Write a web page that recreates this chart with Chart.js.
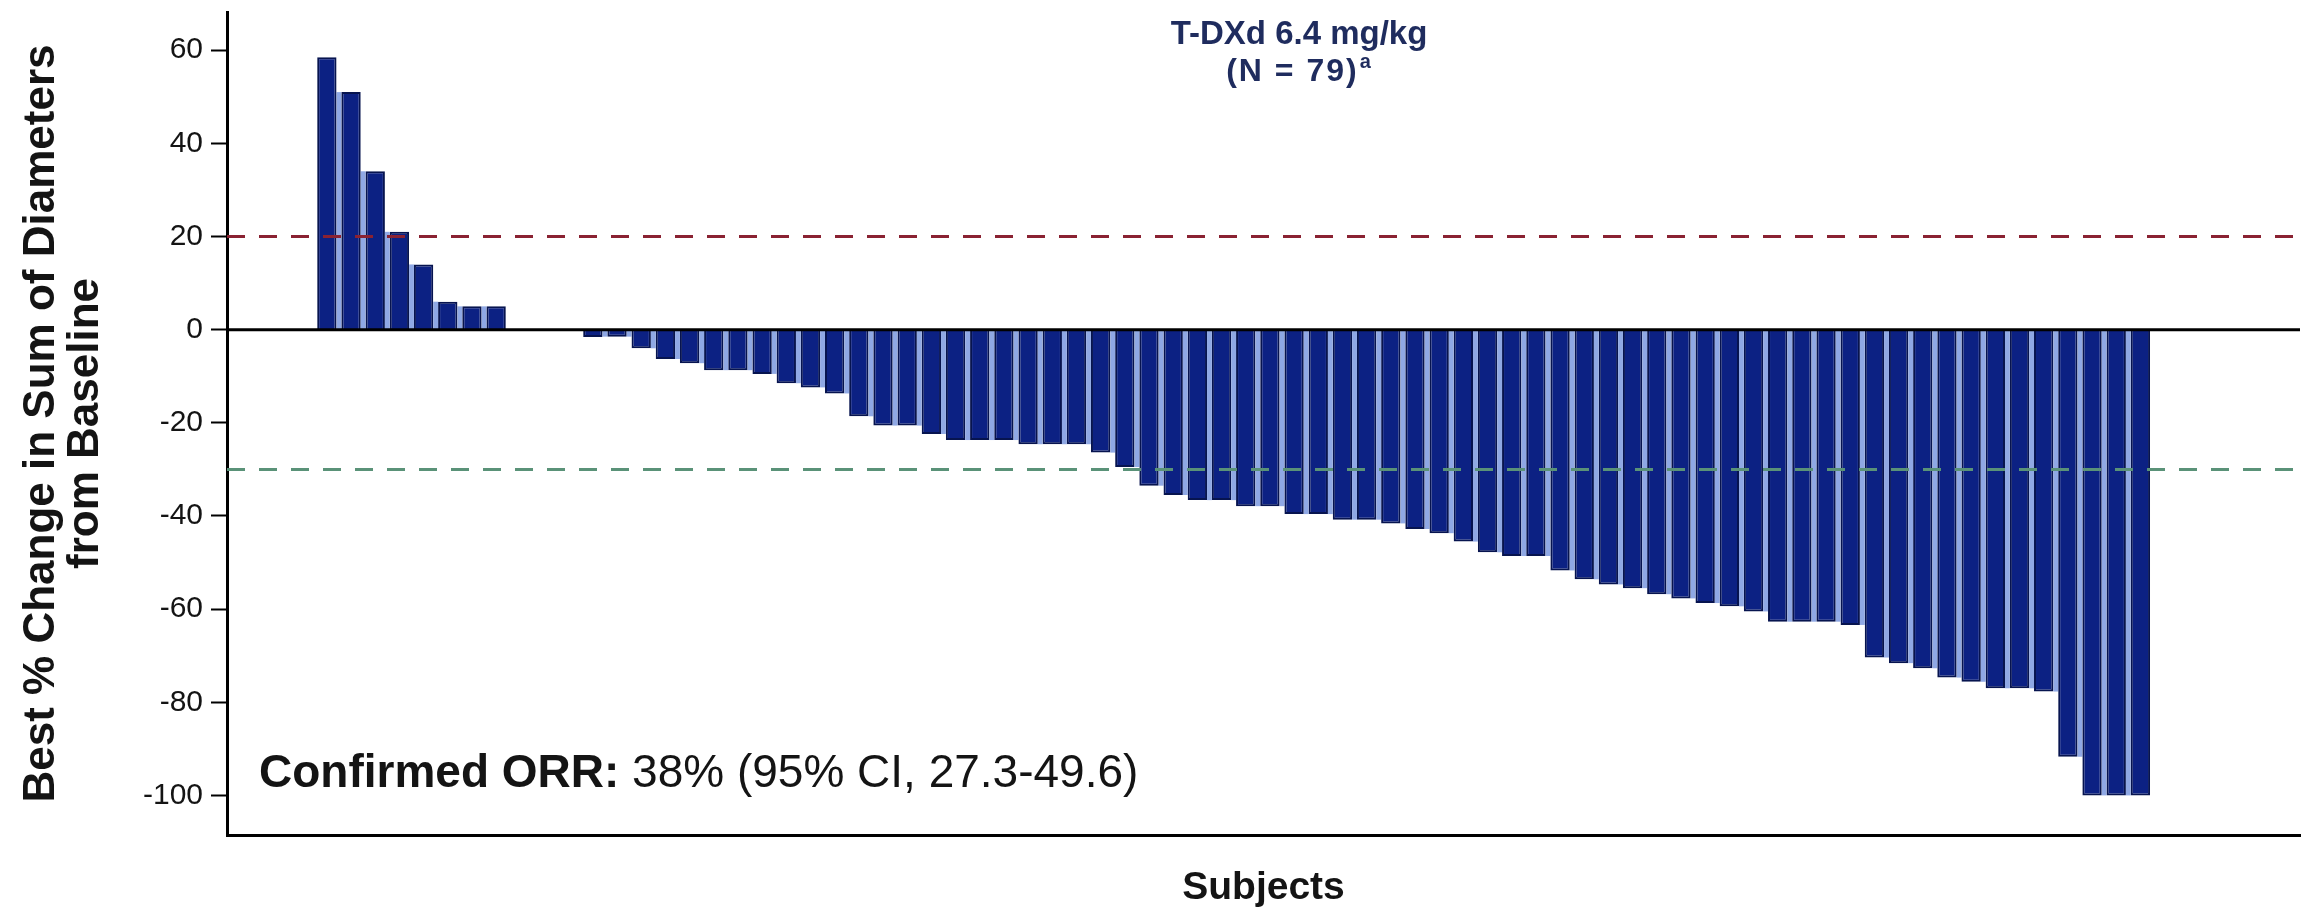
<!DOCTYPE html>
<html>
<head>
<meta charset="utf-8">
<script src="https://cdn.jsdelivr.net/npm/chart.js@4.4.1/dist/chart.umd.min.js"></script>
<style>
  html, body { margin: 0; padding: 0; background: #ffffff; }
  #wrap { width: 2320px; height: 909px; position: relative; }
</style>
</head>
<body>
<div id="wrap"><canvas id="waterfall" width="2320" height="909"></canvas></div>
<script>
// Best % change from baseline per subject, ordered from largest increase to largest decrease
const positiveChange = [58.5, 51.0, 34.0, 21.0, 14.0, 6.0, 5.0, 5.0];
const noChange = [0, 0, 0];
const negativeChange = [
  -1.6, -1.5, -4.0, -6.3, -7.2, -8.7, -8.7, -9.5, -11.5, -12.4,
  -13.7, -18.6, -20.6, -20.6, -22.4, -23.7, -23.7, -23.7, -24.6, -24.6,
  -24.6, -26.4, -29.5, -33.5, -35.5, -36.6, -36.6, -37.9, -37.9, -39.6,
  -39.6, -40.8, -40.8, -41.6, -42.8, -43.7, -45.5, -47.8, -48.6, -48.6,
  -51.7, -53.6, -54.7, -55.5, -56.8, -57.7, -58.7, -59.4, -60.5, -62.7,
  -62.7, -62.7, -63.4, -70.4, -71.6, -72.7, -74.7, -75.6, -77.0, -77.0,
  -77.7, -91.7, -100, -100, -100
];
const bestChange = [...positiveChange, ...noChange, ...negativeChange];
const subjects = bestChange.map((_, i) => i + 1);

// Axis tick labels and RECIST reference levels
const yTickValues = [60, 40, 20, 0, -20, -40, -60, -80, -100];
const progressionLevel = 20;
const responseLevel = -30;

// Text
const headingLines = ['T-DXd 6.4 mg/kg', '(N = 79)'];
const headingNote = 'a';
const orrLabel = 'Confirmed ORR:';
const orrValue = ' 38% (95% CI, 27.3-49.6)';
const yTitle = ['Best % Change in Sum of Diameters', 'from Baseline'];
const xTitle = 'Subjects';

const FONT = '"Liberation Sans", Arial, Helvetica, sans-serif';
const X_MIN = -3.13, X_MAX = 82.6;
const Y_MIN = -108.5, Y_MAX = 68.2;

function levelLine(level, color) {
  return {
    type: 'line',
    data: [{ x: X_MIN, y: level }, { x: X_MAX, y: level }],
    borderColor: color,
    borderWidth: 3,
    borderDash: [18, 14],
    pointRadius: 0,
    order: 1
  };
}

// Light seams between neighbouring bars of the same sign
const barSeams = {
  id: 'barSeams',
  beforeDatasetsDraw(chart) {
    const els = chart.getDatasetMeta(0).data;
    const ctx = chart.ctx;
    ctx.save();
    ctx.fillStyle = '#8fa8e4';
    for (let i = 0; i < els.length - 1; i++) {
      const a = bestChange[i], b = bestChange[i + 1];
      if (a === 0 || b === 0 || Math.sign(a) !== Math.sign(b)) continue;
      const ea = els[i], eb = els[i + 1];
      const x1 = ea.x + ea.width / 2, x2 = eb.x - eb.width / 2;
      const tip = Math.abs(a) < Math.abs(b) ? ea.y : eb.y;
      const base = ea.base;
      ctx.fillRect(x1, Math.min(base, tip), x2 - x1, Math.abs(tip - base));
    }
    ctx.restore();
  }
};

// Heading inside the plot and the ORR statement
const textLayer = {
  id: 'textLayer',
  afterDraw(chart) {
    const { ctx, chartArea } = chart;
    ctx.save();
    ctx.fillStyle = '#1f2c5e';
    ctx.textBaseline = 'alphabetic';
    ctx.textAlign = 'center';
    ctx.font = `bold 33px ${FONT}`;
    const cx = chartArea.left + 1072;
    ctx.fillText(headingLines[0], cx, chartArea.top + 32);

    ctx.letterSpacing = '2px';
    ctx.font = `bold 32px ${FONT}`;
    const w2 = ctx.measureText(headingLines[1]).width;
    ctx.font = `bold 20px ${FONT}`;
    const wn = ctx.measureText(headingNote).width;
    const start = cx - (w2 + wn) / 2;
    ctx.textAlign = 'left';
    ctx.font = `bold 32px ${FONT}`;
    ctx.fillText(headingLines[1], start, chartArea.top + 69);
    ctx.font = `bold 20px ${FONT}`;
    ctx.fillText(headingNote, start + w2 + 1, chartArea.top + 56);
    ctx.letterSpacing = '0px';

    ctx.fillStyle = '#141414';
    ctx.font = `bold 46px ${FONT}`;
    const lx = chartArea.left + 32, ly = chartArea.bottom - 48;
    ctx.fillText(orrLabel, lx, ly);
    const wl = ctx.measureText(orrLabel).width;
    ctx.font = `46px ${FONT}`;
    ctx.fillText(orrValue, lx + wl, ly);
    ctx.restore();
  }
};

new Chart(document.getElementById('waterfall'), {
  type: 'bar',
  data: {
    labels: subjects,
    datasets: [
      {
        type: 'bar',
        data: bestChange,
        backgroundColor: '#0c2183',
        borderColor: '#07144f',
        borderWidth: (c) => (bestChange[c.dataIndex] === 0 ? 0 : 2),
        borderSkipped: 'start',
        barPercentage: 0.8,
        categoryPercentage: 1.0,
        order: 3
      },
      levelLine(progressionLevel, '#8a2232'),
      levelLine(responseLevel, '#5a9278'),
      {
        type: 'line',
        data: [{ x: X_MIN, y: 0 }, { x: X_MAX, y: 0 }],
        borderColor: '#000000',
        borderWidth: 3,
        pointRadius: 0,
        order: 0
      }
    ]
  },
  options: {
    responsive: false,
    animation: false,
    devicePixelRatio: 1,
    layout: { padding: { top: 12, right: 20, left: 0, bottom: 0 } },
    plugins: {
      legend: { display: false },
      tooltip: { enabled: false },
      title: { display: false }
    },
    scales: {
      x: {
        type: 'linear',
        offset: false,
        min: X_MIN,
        max: X_MAX,
        grid: { display: false },
        ticks: { display: false },
        border: { display: true, color: '#000000', width: 3 },
        title: {
          display: true,
          text: xTitle,
          color: '#141414',
          font: { family: FONT, size: 39, weight: 'bold', lineHeight: 1 },
          padding: { top: 0, bottom: 1 }
        },
        afterFit(scale) {
          scale.height = 74;
          scale.paddingLeft = 0;
          scale.paddingRight = 0;
        }
      },
      y: {
        min: Y_MIN,
        max: Y_MAX,
        afterBuildTicks(scale) { scale.ticks = yTickValues.map((v) => ({ value: v })); },
        grid: {
          display: true,
          drawOnChartArea: false,
          drawTicks: true,
          tickLength: 16,
          tickColor: '#000000',
          tickWidth: 2
        },
        border: { display: true, color: '#000000', width: 3 },
        ticks: {
          color: '#141414',
          padding: 8,
          font: { family: FONT, size: 30 }
        },
        title: {
          display: true,
          text: yTitle,
          color: '#141414',
          font: { family: FONT, size: 44, weight: 'bold', lineHeight: 1.02 },
          padding: { top: 19, bottom: 0 }
        },
        afterFit(scale) {
          scale.width = 227;
          scale.paddingTop = 0;
          scale.paddingBottom = 0;
        }
      }
    }
  },
  plugins: [barSeams, textLayer]
});
</script>
</body>
</html>
